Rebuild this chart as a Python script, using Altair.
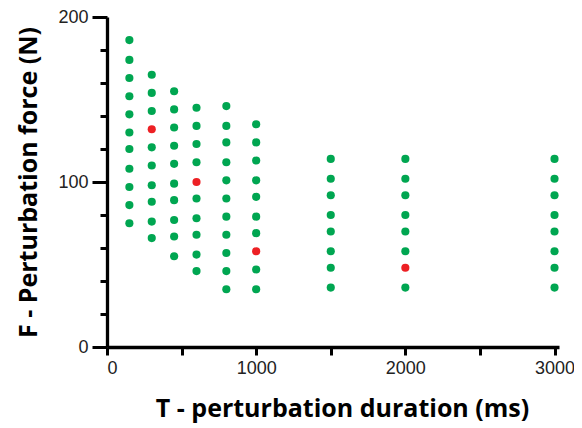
import altair as alt
import pandas as pd

# Perturbation durations (ms) and the forces (N) tested at each
durations = [150, 300, 450, 600, 800, 1000, 1500, 2000, 3000]
forces_150 = [186, 174, 163, 152, 141, 130, 120, 108, 97, 86, 75]
forces_300 = [165, 154, 143, 132, 121, 110, 98, 88, 76, 66]
forces_450 = [155, 144, 133, 122, 111, 99, 89, 77, 67, 55]
forces_600 = [145, 134, 123, 112, 100, 90, 78, 68, 56, 46]
forces_800 = [146, 134, 124, 112, 101, 90, 79, 68, 57, 46, 35]
forces_1000 = [135, 124, 113, 101, 91, 79, 69, 58, 47, 35]
forces_1500 = [114, 102, 92, 80, 70, 58, 48, 36]
forces_2000 = [114, 102, 92, 80, 70, 58, 48, 36]
forces_3000 = [114, 102, 92, 80, 70, 58, 48, 36]
# highlighted (red) points: (duration, force)
red_points = [(300, 132), (600, 100), (1000, 58), (2000, 48)]

all_forces = [forces_150, forces_300, forces_450, forces_600, forces_800,
              forces_1000, forces_1500, forces_2000, forces_3000]

rows = []
for d, fl in zip(durations, all_forces):
    for f in fl:
        rows.append({"T": d, "F": f, "red": (d, f) in red_points})
df = pd.DataFrame(rows)

label_color = "#222222"

chart = alt.Chart(df).mark_circle(size=66, opacity=1).encode(
    x=alt.X("T:Q",
            scale=alt.Scale(domain=[0, 3030], nice=False, zero=False),
            axis=alt.Axis(
                title="T - perturbation duration (ms)",
                values=[0, 500, 1000, 1500, 2000, 2500, 3000],
                labelExpr="datum.value % 1000 === 0 ? datum.label : ''",
                format="d",
                grid=False,
                domainWidth=3.3, domainColor="black",
                tickWidth=3, tickColor="black", tickSize=8,
                labelFont="Liberation Sans", labelFontSize=18,
                labelColor=label_color, labelPadding=4,
                titleFont="Open Sans", titleFontSize=25, titleFontWeight="bold",
                titleColor="black", titlePadding=19, titleX=235,
            )),
    y=alt.Y("F:Q",
            scale=alt.Scale(domain=[0, 200], nice=False),
            axis=alt.Axis(
                title="F - Perturbation force (N)",
                values=list(range(0, 201, 20)),
                labelExpr="datum.value % 100 === 0 ? datum.label : ''",
                grid=False,
                domainWidth=3.3, domainColor="black",
                tickWidth=3, tickColor="black",
                tickSize={"condition": {"test": "datum.value % 100 === 0", "value": 15}, "value": 7},
                labelFont="Liberation Sans", labelFontSize=18,
                labelColor=label_color, labelPadding=4,
                titleFont="Open Sans", titleFontSize=25, titleFontWeight="bold",
                titleColor="black", titlePadding=16,
            )),
    color=alt.condition("datum.red", alt.value("#ed2024"), alt.value("#00a651")),
).properties(
    width=452, height=330,
    autosize=alt.AutoSizeParams(type="none"),
    padding={"left": 99, "top": 9, "right": 15, "bottom": 85},
).configure_view(stroke=None)

chart.save("out.html", embed_options={"renderer": "svg", "actions": False})
